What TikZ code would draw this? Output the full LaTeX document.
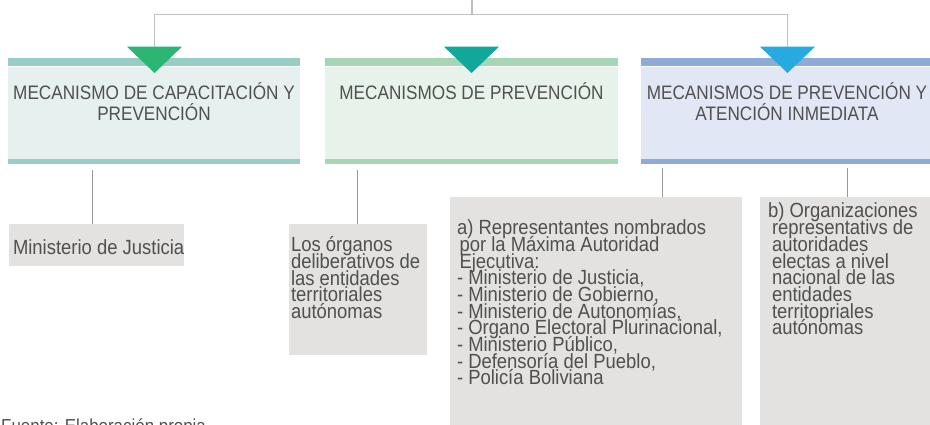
\documentclass[tikz,border=0pt]{standalone}
\usepackage{fontspec}
\setmainfont{Liberation Sans}[FakeStretch=0.9]
\newfontfamily\headfont{Liberation Sans}[FakeStretch=0.88]
\usetikzlibrary{positioning}

\definecolor{bandA}{HTML}{97CDC4}
\definecolor{bodyA}{HTML}{E6F0EE}
\definecolor{bandB}{HTML}{A5D7B5}
\definecolor{bodyB}{HTML}{E7F3EA}
\definecolor{bandC}{HTML}{8EAAD7}
\definecolor{bodyC}{HTML}{E1E7F4}
\definecolor{triA}{HTML}{2BB673}
\definecolor{triB}{HTML}{11A89B}
\definecolor{triC}{HTML}{27AAE1}
\definecolor{boxgray}{HTML}{E3E2E1}
\definecolor{ink}{HTML}{505050}

\lineskiplimit=-30pt

\tikzset{
  head/.style={minimum height=92.5pt, inner sep=0pt},
  title/.style={anchor=base, align=center, inner sep=0pt, text=ink,
    font=\headfont\fontsize{19.5}{21}\selectfont},
  graybox/.style={fill=boxgray, inner sep=0pt},
  entry/.style={anchor=base west, align=left, inner sep=0pt, text=ink,
    font=\fontsize{20.5}{16.7}\selectfont},
  link/.style={draw=black!25, line width=1.5pt},
  stem/.style={draw=black!40, line width=0.8pt}
}

\begin{document}
\begin{tikzpicture}[x=1pt,y=-1pt]
    \useasboundingbox (0,0) rectangle (930,425);
    % cabeceras
    \node[head, fill=bodyA, minimum width=292pt] (h1) at (154,112.85) {};
    \node[head, fill=bodyB, minimum width=293pt] (h2) at (471.5,112.85) {};
    \node[head, fill=bodyC, minimum width=291pt] (h3) at (786.5,112.85) {};
    \foreach \h/\c in {h1/bandA, h2/bandB, h3/bandC} {
        \fill[\c] ([yshift=8.7pt]\h.north west) rectangle (\h.north east);
        \fill[\c] (\h.south west) rectangle ([yshift=-4.3pt]\h.south east);
    }
    % base = last line
    \node[title] (t1) at (154,121) {MECANISMO DE CAPACITACIÓN Y\\PREVENCIÓN};
    \node[title] (t2) at (471.5,100) {MECANISMOS DE PREVENCIÓN};
    \node[title] (t3) at (787,121) {MECANISMOS DE PREVENCIÓN Y\\ATENCIÓN INMEDIATA};

    % conectores superiores
    \coordinate (top) at (472,0);
    \coordinate (bar) at (472,14.3);
    \coordinate (p1) at (154.5,46.7);
    \coordinate (p2) at (471.5,46.7);
    \coordinate (p3) at (787.5,46.7);
    \draw[link] (top) -- (bar);
    \draw[link] (p1) |- (bar) -| (p3);
    \foreach \p/\c in {p1/triA, p2/triB, p3/triC}
        \fill[\c] ([xshift=-27.5pt]\p) -- ([xshift=27.5pt]\p) -- ([yshift=-26.3pt]\p) -- cycle;

    % cajas inferiores
    \node[graybox, minimum width=175pt, minimum height=42pt] (g1) at (96.5,245) {};
    \node[graybox, minimum width=138pt, minimum height=131pt] (g2) at (358,289.5) {};
    \node[graybox, minimum width=292pt, minimum height=230pt] (g3) at (596,311.85) {};
    \node[graybox, minimum width=172pt, minimum height=230pt] (g4) at (846,311.85) {};

    \coordinate (s1) at (92,170);
    \coordinate (s2) at (357.5,170);
    \coordinate (s3) at (662,168);
    \coordinate (s4) at (847,168);
    \draw[stem] (s1) -- (s1 |- g1.north);
    \draw[stem] (s2) -- (s2 |- g2.north);
    \draw[stem] (s3) -- (s3 |- g3.north);
    \draw[stem] (s4) -- (s4 |- g4.north);

    \node[entry] (e1) at ([shift={(4,30.5)}]g1.north west) {Ministerio de Justicia};
    \node[entry] (e2) at ([shift={(2,94.8)}]g2.north west) {Los órganos\\deliberativos de\\las entidades\\territoriales\\autónomas};
    \node[entry] (e3) at ([shift={(7,188.3)}]g3.north west) {a) Representantes nombrados\\
        \hspace{2.5pt}por la Máxima Autoridad\\
        \hspace{2.5pt}Ejecutiva:\\
        - Ministerio de Justicia,\\
        - Ministerio de Gobierno,\\
        - Ministerio de Autonomías,\\
        - Órgano Electoral Plurinacional,\\
        - Ministerio Público,\\
        - Defensoría del Pueblo,\\
        - Policía Boliviana};
    \node[entry] (e4) at ([shift={(8,138.2)}]g4.north west) {b) Organizaciones\\
        \hspace{4pt}representativs de\\
        \hspace{4pt}autoridades\\
        \hspace{4pt}electas a nivel\\
        \hspace{4pt}nacional de las\\
        \hspace{4pt}entidades\\
        \hspace{4pt}territopriales\\
        \hspace{4pt}autónomas};

    \node[entry, font=\fontsize{18.8}{20}\selectfont] (src) at (1,432.5) {Fuente: Elaboración propia};
\end{tikzpicture}
\end{document}
